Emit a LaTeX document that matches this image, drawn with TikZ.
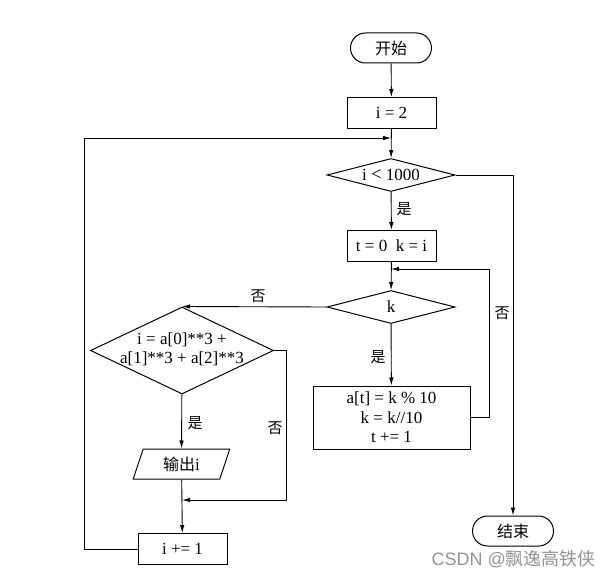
\documentclass[tikz,border=0pt]{standalone}
\usepackage{fontspec}
\setmainfont{Liberation Serif}
\newfontfamily\cjk{Noto Sans CJK SC}
\newfontfamily\wmsans{Liberation Sans}
\usetikzlibrary{shapes.geometric,arrows.meta}
\begin{document}
\begin{tikzpicture}[x=1pt,y=-1pt,
  every node/.style={font=\fontsize{17}{19.5}\selectfont, inner sep=0pt},
  term/.style={draw, line width=1pt, rounded corners=15pt, minimum width=81pt, minimum height=30pt, font=\cjk\fontsize{16}{18}\selectfont},
  proc/.style={draw, line width=1pt, minimum width=89pt, minimum height=31pt},
  dia/.style={draw, line width=1pt, diamond},
  io/.style={draw, line width=1pt, trapezium, trapezium left angle=72, trapezium right angle=108, trapezium stretches=true, minimum width=97pt, minimum height=30pt},
  lbl/.style={font=\cjk\fontsize{15}{17}\selectfont},
  arr/.style={line width=0.9pt, -{Latex[length=8pt,width=4.5pt]}},
  ln/.style={line width=0.9pt}]
\useasboundingbox (0,0) rectangle (613,578);

\node[term] (start) at (391,48) {开始};
\node[proc] (i2) at (391.5,113) {i = 2};
\node[dia, minimum width=128pt, minimum height=33pt] (d1) at (391,175) {};
\node at (d1) {i {\fontsize{19}{19}\selectfont<} 1000};
\node[proc] (tk) at (391.5,246) {t = 0\enspace k = i};
\node[dia, minimum width=128pt, minimum height=33pt] (d2) at (391,307) {};
\node at (d2) {k};
\node[proc, minimum width=157pt, minimum height=63pt, align=center] (body) at (391.5,417.5) {a[t] = k \% 10\\k = k//10\\t += 1};
\node[dia, minimum width=183pt, minimum height=87pt] (d3) at (182,350.5) {};
\node[align=center] (d3t) at (182,349) {i = a[0]**3 +\\a[1]**3 + a[2]**3};
\node[io] (out) at (181.5,464) {{\cjk\fontsize{16}{18}\selectfont 输出}i};
\node[proc] (inc) at (182.5,549) {i += 1};
\node[term] (end) at (513,531) {结束};

\coordinate (j1) at (391,138);
\coordinate (j2) at (391,269);
\coordinate (j3) at (182,500);

\draw[arr] (start) -- (i2);
\draw[arr] (i2) -- (d1);
\draw[arr] (d1) -- (tk);
\draw[arr] (tk) -- (d2);
\draw[arr] (d2) -- (body);
\draw[arr] (d2.west) -- (d3.north);
\draw[arr] (d3) -- (out);
\draw[arr] (out) -- (inc);
\draw[arr] (d1.east) -- (d1.east -| end) -- (end);
\draw[arr] (body.east) -- ++(19,0) |- (j2);
\draw[arr] (d3.east) -- ++(12,0) |- (j3);
\draw[arr] (inc.west) -- (84,549) |- (j1);

\node[lbl] (y1) at (404,209) {是};
\node[lbl] (n1) at (258,296) {否};
\node[lbl] (y2) at (378,357) {是};
\node[lbl] (n2) at (502,313) {否};
\node[lbl] (y3) at (195,423) {是};
\node[lbl] (n3) at (275,428) {否};

\node[text=black!42, anchor=east] (wm) at (596,559) {\wmsans\fontsize{18}{20}\selectfont CSDN @{\cjk 飘逸高铁侠}};
\end{tikzpicture}
\end{document}
